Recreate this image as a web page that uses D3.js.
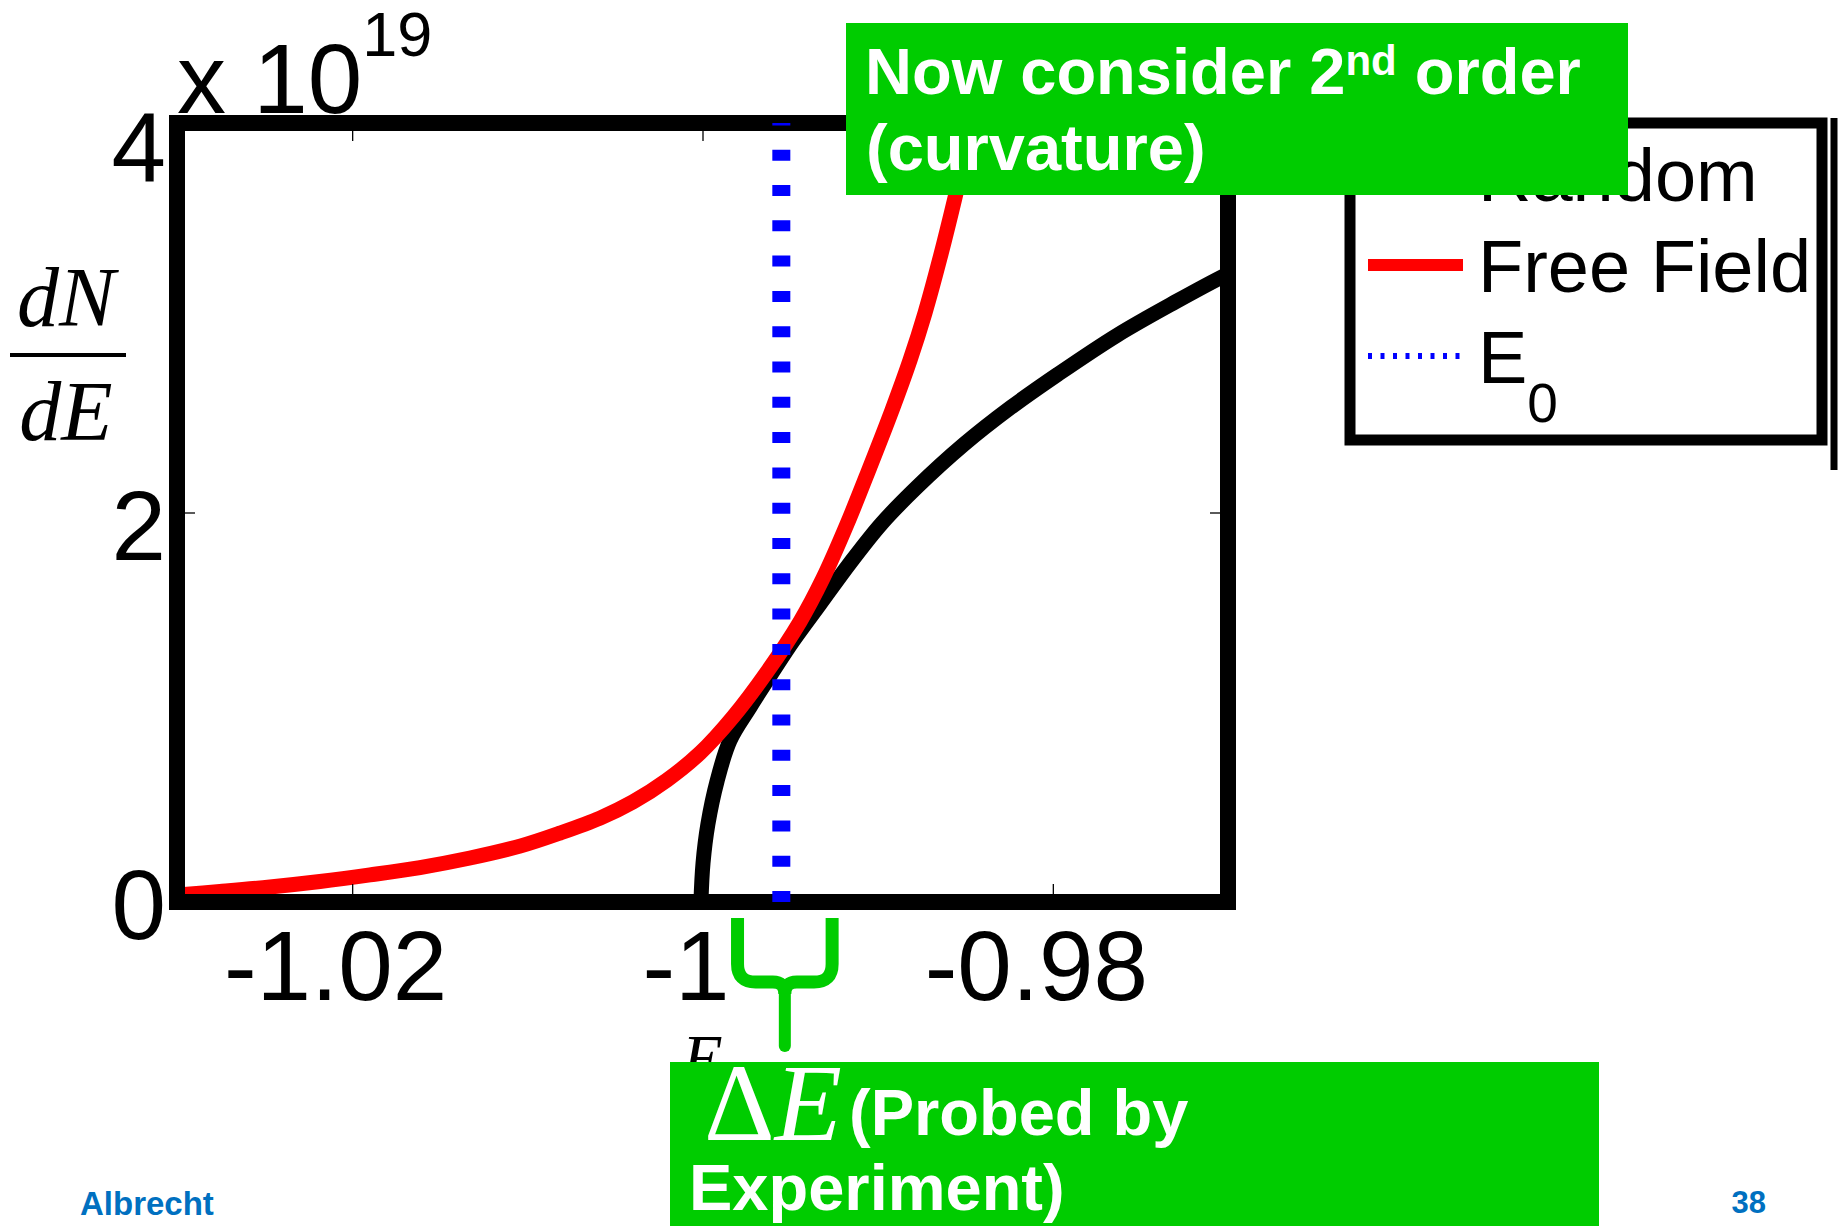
<!DOCTYPE html>
<html>
<head>
<meta charset="utf-8">
<script src="https://cdn.jsdelivr.net/npm/d3@7"></script>
<style>
  html, body { margin: 0; padding: 0; background: #ffffff; }
  svg { display: block; }
</style>
</head>
<body>
<svg id="chart" width="1843" height="1226"></svg>
<script>
// Spectrum dN/dE near the ground-state energy: random vs free-field, with E0 marked.
const xTicks = [-1.02, -1, -0.98];
const xTickLabels = ["-1.02", "-1", "-0.98"];
const yTicks = [0, 2, 4];
const yTickLabels = ["0", "2", "4"];

// Random (black) curve, x = E, y = dN/dE in units of 1e19
const randomE = [-1.00009, -0.99997, -0.99969, -0.99917, -0.99843, -0.99729, -0.99615, -0.99483,
                 -0.99329, -0.99158, -0.98981, -0.98776, -0.98507, -0.98239, -0.97971, -0.97634,
                 -0.97303, -0.97012, -0.97000];
const randomN = [0.00, 0.20, 0.40, 0.62, 0.83, 1.00, 1.16, 1.34,
                 1.53, 1.74, 1.94, 2.13, 2.35, 2.54, 2.71, 2.91,
                 3.08, 3.22, 3.225];

// Free-field (red) curve
const freeE = [-1.03000, -1.02755, -1.02469, -1.02184, -1.01898, -1.01613, -1.01327, -1.01042,
               -1.00814, -1.00585, -1.00397, -1.00203, -1.00014, -0.99826, -0.99632, -0.99443,
               -0.99312, -0.99175, -0.99044, -0.98918, -0.98815, -0.98730, -0.98644, -0.98559,
               -0.98473, -0.98387];
const freeN = [0.036, 0.054, 0.077, 0.105, 0.139, 0.177, 0.226, 0.287,
               0.354, 0.431, 0.514, 0.626, 0.765, 0.950, 1.181, 1.440,
               1.662, 1.940, 2.234, 2.526, 2.783, 3.024, 3.307, 3.615,
               3.949, 4.298];

const E0 = -0.9955;
const deltaE = [-0.9980, -0.9926];
const legendLabels = ["Random", "Free Field", "E"];
const legendSub = ["", "", "0"];
const legendColors = ["#000000", "#ff0000", "#0000ff"];

const svg = d3.select("#chart");
const SANS = "'Liberation Sans', Arial, Helvetica, sans-serif";
const SERIF = "'Liberation Serif', 'Times New Roman', serif";
const GREEN = "#00cc00";

const plot = { left: 177, right: 1228, top: 123, bottom: 902 };
const x = d3.scaleLinear().domain([-1.03, -0.97]).range([plot.left, plot.right]);
const y = d3.scaleLinear().domain([0, 4]).range([plot.bottom, plot.top]);

svg.append("rect").attr("width", 1843).attr("height", 1226).attr("fill", "#fff");

svg.append("defs").append("clipPath").attr("id", "plotClip")
  .append("rect")
  .attr("x", plot.left).attr("y", plot.top)
  .attr("width", plot.right - plot.left).attr("height", plot.bottom - plot.top);

// curves
const line = d3.line().x(d => x(d[0])).y(d => y(d[1])).curve(d3.curveCatmullRom.alpha(0.5));
const curves = svg.append("g").attr("clip-path", "url(#plotClip)");
curves.append("path")
  .datum(randomE.map((e, i) => [e, randomN[i]]))
  .attr("d", line).attr("fill", "none")
  .attr("stroke", "#000").attr("stroke-width", 15).attr("stroke-linejoin", "round");
curves.append("path")
  .datum(freeE.map((e, i) => [e, freeN[i]]))
  .attr("d", line).attr("fill", "none")
  .attr("stroke", "#ff0000").attr("stroke-width", 15).attr("stroke-linejoin", "round");

// inward ticks on all four sides
const tickLen = 18;
function styleAxis(g) {
  g.select(".domain").remove();
  g.selectAll(".tick line").attr("stroke", "#000").attr("stroke-width", 1.3);
}
svg.append("g").attr("transform", `translate(0,${plot.bottom})`)
  .call(d3.axisBottom(x).tickValues(xTicks).tickSizeInner(-tickLen).tickSizeOuter(0)
        .tickFormat((d, i) => xTickLabels[i]))
  .call(styleAxis)
  .call(g => g.selectAll(".tick text")
      .attr("y", 98).attr("dy", 0).attr("dx", -17)
      .attr("fill", "#000")
      .style("font-family", SANS).style("font-size", "98px"));
svg.append("g").attr("transform", `translate(0,${plot.top})`)
  .call(d3.axisTop(x).tickValues(xTicks).tickSizeInner(-tickLen).tickSizeOuter(0).tickFormat(""))
  .call(styleAxis);
svg.append("g").attr("transform", `translate(${plot.left},0)`)
  .call(d3.axisLeft(y).tickValues(yTicks).tickSizeInner(-tickLen).tickSizeOuter(0)
        .tickFormat((d, i) => yTickLabels[i]))
  .call(styleAxis)
  .call(g => g.selectAll(".tick text")
      .attr("x", -11).attr("dy", 0)
      .attr("y", d => 36 + 5.25 * d)
      .attr("text-anchor", "end")
      .attr("fill", "#000")
      .style("font-family", SANS).style("font-size", "98px"));
svg.append("g").attr("transform", `translate(${plot.right},0)`)
  .call(d3.axisRight(y).tickValues(yTicks).tickSizeInner(-tickLen).tickSizeOuter(0).tickFormat(""))
  .call(styleAxis);

// axes box
svg.append("rect")
  .attr("x", plot.left).attr("y", plot.top)
  .attr("width", plot.right - plot.left).attr("height", plot.bottom - plot.top)
  .attr("fill", "none").attr("stroke", "#000").attr("stroke-width", 16);

// E0 marker
svg.append("line")
  .attr("x1", x(E0)).attr("x2", x(E0))
  .attr("y1", y(0)).attr("y2", y(4))
  .attr("stroke", "#0000ff").attr("stroke-width", 18)
  .attr("stroke-dasharray", "11 24.3");

// exponent label
svg.append("text")
  .attr("x", 177).attr("y", 113)
  .style("font-family", SANS).style("font-size", "98px").attr("fill", "#000")
  .text("x 10")
  .append("tspan").attr("dy", -57).style("font-size", "63px").text("19");

// y label as a fraction dN/dE
const yl = svg.append("g").style("font-family", SERIF).style("font-style", "italic")
  .style("font-size", "84px").attr("fill", "#000");
yl.append("text").attr("x", 66).attr("y", 326).attr("text-anchor", "middle").text("dN");
yl.append("line").attr("x1", 10).attr("x2", 126).attr("y1", 355).attr("y2", 355)
  .attr("stroke", "#000").attr("stroke-width", 4);
yl.append("text").attr("x", 66).attr("y", 440).attr("text-anchor", "middle").text("dE");

// x label
svg.append("text")
  .attr("x", (plot.left + plot.right) / 2).attr("y", 1080)
  .attr("text-anchor", "middle")
  .style("font-family", SERIF).style("font-style", "italic").style("font-size", "66px")
  .attr("fill", "#000").text("E");

// legend
const lg = svg.append("g");
lg.append("rect").attr("x", 1350).attr("y", 123).attr("width", 472).attr("height", 317)
  .attr("fill", "#fff").attr("stroke", "#000").attr("stroke-width", 11);
lg.append("line").attr("x1", 1834).attr("x2", 1834).attr("y1", 118).attr("y2", 470)
  .attr("stroke", "#000").attr("stroke-width", 7);
legendLabels.forEach((lab, i) => {
  const by = 201 + i * 91;
  const ly = by - 27;
  const ln = lg.append("line").attr("x1", 1368).attr("x2", 1463)
    .attr("y1", ly).attr("y2", ly).attr("stroke", legendColors[i]);
  if (i === 2) ln.attr("stroke-width", 6).attr("stroke-dasharray", "4 8.5");
  else ln.attr("stroke-width", 12);
  const t = lg.append("text").attr("x", 1478).attr("y", by)
    .style("font-family", SANS).style("font-size", "74px").attr("fill", "#000").text(lab);
  if (legendSub[i]) {
    t.append("tspan").attr("dy", 39).style("font-size", "55px").text(legendSub[i]);
  }
});

// brace marking the probed energy window
const bl = x(deltaE[0]), br = x(deltaE[1]), bc = (bl + br) / 2;
const armTop = 918, barY = 982, tipY = 1046, r = 18;
svg.append("path")
  .attr("d", `M${bl},${armTop} V${barY - r} Q${bl},${barY} ${bl + r},${barY} H${bc - 12} Q${bc},${barY} ${bc},${barY + 12}
              M${br},${armTop} V${barY - r} Q${br},${barY} ${br - r},${barY} H${bc + 12} Q${bc},${barY} ${bc},${barY + 12}`)
  .attr("fill", "none").attr("stroke", GREEN).attr("stroke-width", 13);
svg.append("path")
  .attr("d", `M${bc},${barY + 4} L${bc},${tipY}`)
  .attr("fill", "none").attr("stroke", GREEN).attr("stroke-width", 12).attr("stroke-linecap", "round");

// callout boxes
const calloutTop = svg.append("g");
calloutTop.append("rect").attr("x", 846).attr("y", 23).attr("width", 782).attr("height", 172).attr("fill", GREEN);
const t1 = calloutTop.append("text").attr("x", 865).attr("y", 94)
  .style("font-family", SANS).style("font-weight", "bold").style("font-size", "65px").attr("fill", "#fff");
t1.append("tspan").text("Now consider 2");
t1.append("tspan").attr("dy", -19).style("font-size", "42px").text("nd");
t1.append("tspan").attr("dy", 19).text(" order");
calloutTop.append("text").attr("x", 866).attr("y", 170)
  .style("font-family", SANS).style("font-weight", "bold").style("font-size", "65px").attr("fill", "#fff")
  .text("(curvature)");

const calloutBottom = svg.append("g");
calloutBottom.append("rect").attr("x", 670).attr("y", 1062).attr("width", 929).attr("height", 164).attr("fill", GREEN);
const de = calloutBottom.append("text").attr("x", 704).attr("y", 1140)
  .style("font-family", SERIF).style("font-size", "110px").attr("fill", "#fff");
de.append("tspan").text("\u0394");
de.append("tspan").style("font-style", "italic").text("E");
calloutBottom.append("text").attr("x", 849).attr("y", 1135)
  .style("font-family", SANS).style("font-weight", "bold").style("font-size", "65px").attr("fill", "#fff")
  .text("(Probed by");
calloutBottom.append("text").attr("x", 689).attr("y", 1210)
  .style("font-family", SANS).style("font-weight", "bold").style("font-size", "65px").attr("fill", "#fff")
  .text("Experiment)");

// footer
svg.append("text").attr("x", 80).attr("y", 1215)
  .style("font-family", SANS).style("font-weight", "bold").style("font-size", "33px").attr("fill", "#0070c0")
  .text("Albrecht");
svg.append("text").attr("x", 1766).attr("y", 1213).attr("text-anchor", "end")
  .style("font-family", SANS).style("font-weight", "bold").style("font-size", "31px").attr("fill", "#0070c0")
  .text("38");
</script>
</body>
</html>
